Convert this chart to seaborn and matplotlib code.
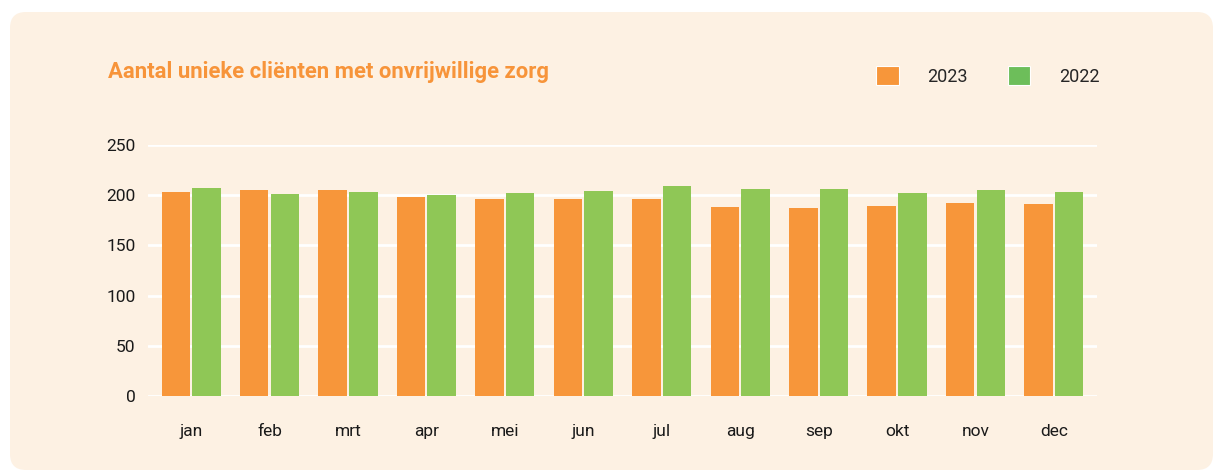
import numpy as np
import pandas as pd
import matplotlib
matplotlib.use("Agg")
import matplotlib.pyplot as plt
import seaborn as sns
from matplotlib.patches import FancyBboxPatch, Patch
from matplotlib.transforms import IdentityTransform

# data
months = ["jan", "feb", "mrt", "apr", "mei", "jun", "jul", "aug", "sep", "okt", "nov", "dec"]
clients_2023 = [203, 205, 205, 198, 196, 196, 196, 188, 187, 189, 192, 191]
clients_2022 = [207, 201, 203, 200, 202, 204, 209, 206, 206, 202, 205, 203]
years = ["2023", "2022"]

df = pd.DataFrame({
    "maand": months * 2,
    "jaar": ["2023"] * 12 + ["2022"] * 12,
    "aantal": clients_2023 + clients_2022,
})

orange = "#F7963A"
green = "#8FC756"
legend_green = "#6DBE5A"
bg = "#FDF1E3"

sns.set_style("white")
plt.rcParams["font.family"] = ["Roboto", "DejaVu Sans"]

fig = plt.figure(figsize=(12.15, 4.72), dpi=100, facecolor="white")

# rounded panel behind everything
panel = FancyBboxPatch((10, 2), 1203, 458, boxstyle="round,pad=0,rounding_size=16",
                       transform=IdentityTransform(), facecolor=bg, edgecolor="none", zorder=0)
fig.add_artist(panel)

ax = fig.add_axes([148 / 1215, 1 - 396 / 472, (1097 - 148) / 1215, (396 - 145) / 472])
ax.set_facecolor("none")

sns.barplot(data=df, x="maand", y="aantal", hue="jaar", hue_order=years,
            palette=[orange, green], width=0.78, gap=0.07, saturation=1,
            linewidth=0, legend=False, ax=ax, zorder=3)

ax.set_xlim(-0.55, 11.55)
ax.set_ylim(0, 250)
ax.set_yticks([0, 50, 100, 150, 200, 250])
ax.yaxis.grid(True, color="white", linewidth=2)
ax.set_axisbelow(True)
for s in ax.spines.values():
    s.set_visible(False)
ax.set_xlabel("")
ax.set_ylabel("")
ax.tick_params(axis="x", length=0, pad=20, labelsize=12.5, labelcolor="#1a1a1a")
ax.tick_params(axis="y", length=0, pad=9, labelsize=12.5, labelcolor="#1a1a1a")

fig.text(108 / 1215, 1 - 72 / 472, "Aantal unieke cliënten met onvrijwillige zorg",
         color="#F7943A", fontsize=15.9, fontweight="bold", va="center", ha="left")

handles = [Patch(facecolor=orange, edgecolor="white", linewidth=0.8),
           Patch(facecolor=legend_green, edgecolor="white", linewidth=0.8)]
fig.legend(handles, years, loc="center left", bbox_to_anchor=(876 / 1215, 1 - 76 / 472),
           ncol=2, frameon=False, fontsize=13, handlelength=1.25, handleheight=1.25,
           handletextpad=1.6, columnspacing=2.2, borderpad=0, borderaxespad=0)

fig.savefig("out.png", dpi=100, facecolor="white")
